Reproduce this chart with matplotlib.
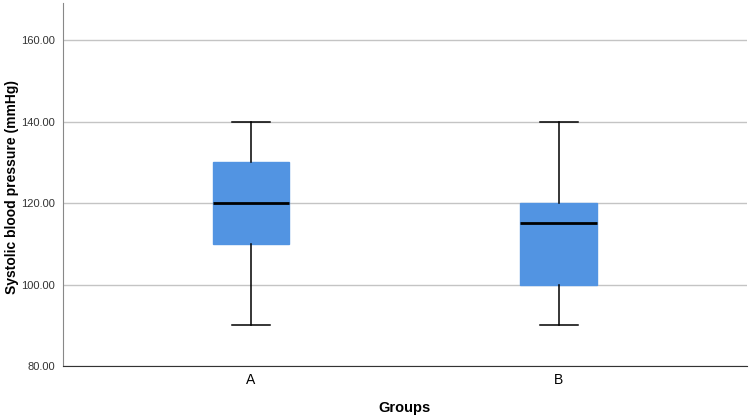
import matplotlib.pyplot as plt

plt.rcParams['font.family'] = ['Liberation Sans', 'DejaVu Sans']

groups = ['A', 'B']
whisker_low = [90, 90]
q1 = [110, 100]
median = [120, 115]
q3 = [130, 120]
whisker_high = [140, 140]

stats = []
for i in range(len(groups)):
    stats.append({'label': groups[i], 'whislo': whisker_low[i], 'q1': q1[i],
                  'med': median[i], 'q3': q3[i], 'whishi': whisker_high[i], 'fliers': []})

fig = plt.figure(figsize=(7.49, 4.19), dpi=100)
ax = fig.add_axes([0.0841, 0.1265, 0.9129, 0.8663])

ax.bxp(stats, positions=[1, 2], widths=0.25, patch_artist=True, showfliers=False,
       boxprops=dict(facecolor='#5294e2', edgecolor='#5294e2', linewidth=1),
       medianprops=dict(color='black', linewidth=2),
       whiskerprops=dict(color='black', linewidth=1.1),
       capprops=dict(color='black', linewidth=1.1), zorder=3)

ax.set_xlim(0.389, 2.611)
ax.set_ylim(80, 169.1)
ax.set_yticks([80, 100, 120, 140, 160])
ax.set_yticklabels(['%.2f' % v for v in [80, 100, 120, 140, 160]], fontsize=8, color='#333333')
ax.tick_params(axis='y', length=0, pad=6)
ax.tick_params(axis='x', length=0, pad=5, labelsize=10)
ax.yaxis.grid(True, color='#c4c4c4', linewidth=1, zorder=0)
ax.set_axisbelow(True)

for s in ['top', 'right']:
    ax.spines[s].set_visible(False)
ax.spines['left'].set_color('#888888')
ax.spines['bottom'].set_color('#333333')

fig.text(12 / 749, 1 - 187 / 419, 'Systolic blood pressure (mmHg)', rotation=90,
         ha='center', va='center', fontsize=10, fontweight='bold')
ax.set_xlabel('Groups', fontsize=10.5, fontweight='bold')
ax.xaxis.set_label_coords(0.5, -0.097)

fig.savefig('out.png', dpi=100)
